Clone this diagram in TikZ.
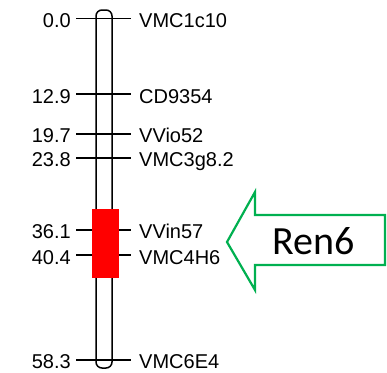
\documentclass[tikz,border=0pt]{standalone}
\usepackage{fontspec}
\setmainfont{Liberation Sans}
\newfontfamily\qtlfont{Carlito}
\usepackage{tikz}
\definecolor{qtlgreen}{RGB}{0,176,80}

\begin{document}
\begin{tikzpicture}[x=1pt, y=-1pt, every node/.style={font=\fontsize{20}{24}\selectfont, inner sep=0pt}]
\useasboundingbox (0,0) rectangle (387,372);
% chromosome
\draw[line width=1.5pt, rounded corners=6pt] (96,10) rectangle (112,368);
% markers
\foreach \cm/\mk [count=\i] in {0.0/VMC1c10, 12.9/CD9354, 19.7/VVio52, 23.8/VMC3g8.2, 36.1/VVin57, 40.4/VMC4H6, 58.3/VMC6E4} {
  \pgfmathsetmacro{\y}{18.7+5.85*\cm}
  \node[anchor=base east] (pos\i) at (71,\y+9) {\cm};
  \node[anchor=base west] (mk\i) at (139,\y+9) {\mk};
  \coordinate (tl\i) at (76,\y);
  \coordinate (tr\i) at (131,\y);
  \draw[line width=1.5pt] (tl\i) -- (tr\i);
}
% QTL region
\node[fill=red, minimum width=27pt, minimum height=69pt] (ren) at (105.5,243.5) {};
% arrow
\draw[qtlgreen, line width=2.2pt, line join=miter] (385,215) -- (255,215) -- (255,192) -- (227,242) -- (255,290) -- (255,265) -- (385,265) -- cycle;
\node[anchor=base, font=\qtlfont\fontsize{40}{44}\selectfont] (label) at (313.5,254) {Ren6};
\end{tikzpicture}
\end{document}
